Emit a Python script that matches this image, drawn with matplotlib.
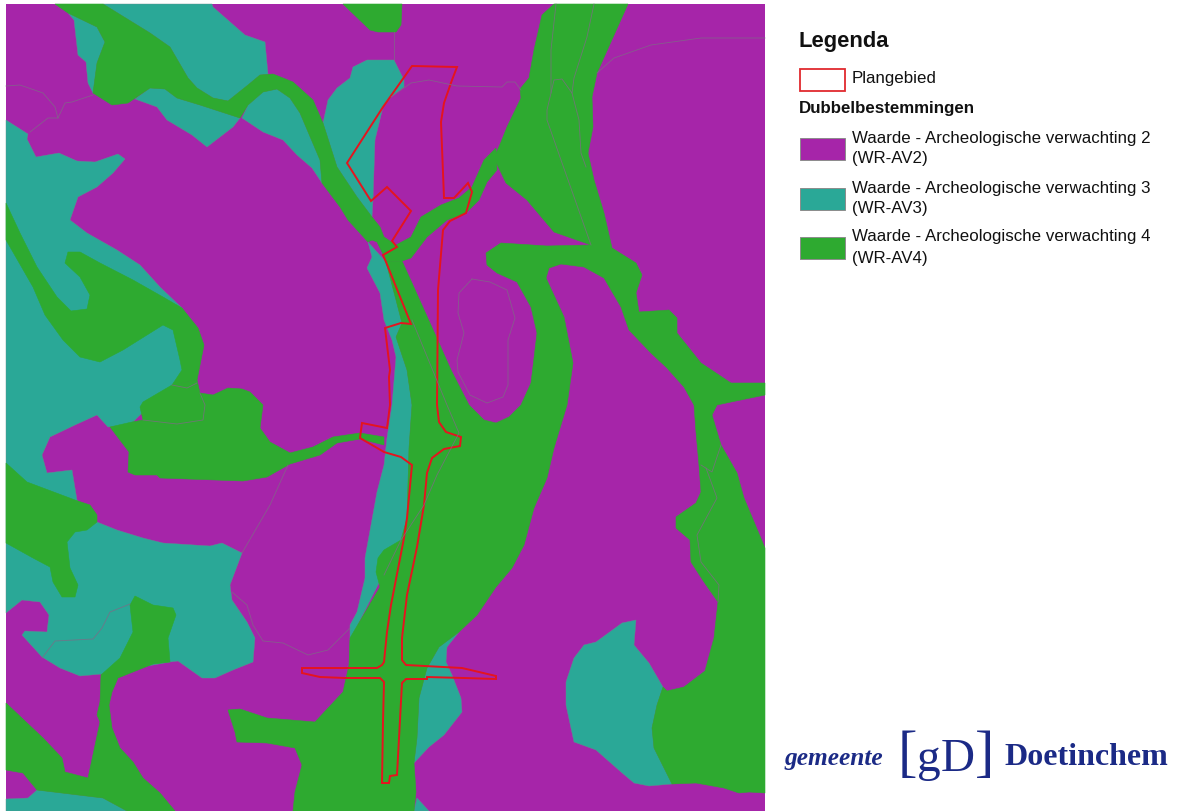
import matplotlib
matplotlib.use("Agg")
import matplotlib.pyplot as plt
from matplotlib.patches import Polygon, Rectangle

PURPLE = "#A625A9"
TEAL = "#2AA897"
GREEN = "#2EAA30"
RED = "#E5141E"
LINE = "#7F6A86"
NAVY = "#1B2A86"

# kaartvlakken, gelezen uit de afbeelding (x, y in pixels)
map_box = (6, 4, 765, 811)

teal_west = [(6,120),(28,134),(27,139),(36,157),(59,153),(77,161),(95,162),(118,154),(125,159),(113,173),(97,187),
             (78,197),(70,220),(87,233),(117,250),(140,265),(160,287),(182,308),(195,330),(195,375),(170,390),(145,410),
             (130,425),(108,427),(97,415),(75,425),(50,437),(42,455),(47,473),(72,470),(77,500),(97,522),(117,530),
             (143,538),(163,543),(210,546),(222,543),(242,553),(230,585),(232,600),(247,622),(255,638),(253,662),
             (233,670),(215,678),(202,678),(178,661),(170,662),(102,674),(80,676),(60,668),(42,657),(22,635),(25,631),
             (47,632),(49,615),(40,602),(22,600),(6,613)]
teal_nw1 = [(103,4),(150,33),(170,47),(188,78),(197,88),(213,98),(228,101),(248,85),(260,75),(268,74),(265,42),(245,35),(213,7),(212,4)]
teal_nw2 = [(68,13),(97,27),(105,42),(97,63),(93,93),(88,83),(86,62),(78,55),(74,20)]
teal_nw3 = [(135,99),(150,88),(165,89),(177,98),(200,105),(240,118),(233,127),(220,137),(207,147),(192,135),(167,120),(157,107)]
teal_nw4 = [(242,118),(248,105),(263,92),(277,89),(290,98),(300,113),(320,160),(322,183),(312,168),(297,155),(283,140),(263,132),(248,122)]
teal_north = [(367,60),(353,67),(350,78),(337,88),(328,100),(323,123),(337,167),(357,197),(372,217),(373,200),(375,140),
              (383,107),(391,97),(404,87),(404,80),(394,60)]
teal_central = [(368,242),(372,257),(367,268),(380,293),(384,320),(392,340),(396,357),(392,405),(387,438),(384,465),
                (377,492),(365,558),(365,578),(357,612),(350,625),(350,640),(384,573),(401,540),(407,518),(409,448),
                (412,405),(407,370),(396,337),(402,323),(396,300),(386,262)]
teal_south = [(459,632),(439,647),(427,668),(419,698),(417,738),(414,763),(429,747),(444,735),(462,712),(461,698),(452,675),(446,662),(447,647)]
teal_southeast = [(636,620),(622,623),(596,642),(584,645),(574,658),(566,682),(566,705),(574,742),(596,750),(621,772),
                  (634,783),(649,786),(672,784),(654,748),(652,728),(657,705),(663,687),(649,663),(634,645)]
teal_bottom_left = [(6,799),(28,798),(37,790),(103,798),(127,811),(6,811)]
teal_bottom_mid = [(414,811),(417,798),(429,811)]

green_north = [(55,4),(68,13),(97,27),(105,42),(97,63),(93,93),(112,105),(128,103),(150,88),(165,89),(177,98),(200,105),
               (240,118),(248,105),(263,92),(277,89),(290,98),(300,113),(320,160),(322,183),(340,207),(348,220),(368,242),
               (372,240),(377,242),(384,256),(396,245),(384,237),(380,227),(372,217),(357,197),(337,167),(323,123),(313,100),
               (293,82),(273,74),(260,75),(248,85),(228,101),(213,98),(197,88),(188,78),(170,47),(150,33),(103,4)]
green_top = [(343,4),(370,30),(378,32),(396,32),(401,25),(402,4)]
green_link = [(396,245),(411,237),(421,217),(441,205),(459,198),(472,187),(484,160),(496,148),(497,170),(487,182),(479,200),
              (466,213),(447,220),(427,237),(411,258),(402,261),(386,262),(384,256)]
green_body = [(402,261),(412,283),(439,343),(451,370),(469,405),(484,420),(496,423),(509,417),(521,405),(531,383),(537,333),
              (531,307),(517,282),(497,273),(487,265),(486,253),(501,243),(547,246),(591,245),(554,232),(527,200),(506,183),
              (494,158),(501,142),(507,127),(521,98),(520,89),(529,78),(534,50),(542,15),(554,4),(628,4),(597,73),(592,97),
              (593,127),(588,153),(594,180),(604,213),(612,248),(636,263),(642,275),(636,293),(639,312),(669,310),(677,318),
              (677,333),(701,363),(731,383),(765,383),(765,395),(731,402),(717,405),(712,415),(721,445),(737,473),(744,498),
              (765,548),(765,793),(749,792),(739,793),(724,788),(696,783),(672,784),(654,748),(652,728),(657,705),(663,687),
              (667,691),(684,687),(705,671),(714,638),(718,602),(704,582),(691,562),(690,540),(676,528),(676,517),(696,503),
              (701,492),(699,465),(696,432),(694,405),(684,387),(667,368),(651,353),(629,330),(621,307),(604,278),(584,267),
              (561,264),(549,268),(546,278),(564,317),(573,363),(567,405),(554,448),(547,478),(534,508),(524,545),(512,568),
              (496,587),(477,615),(459,632),(439,647),(427,668),(419,698),(417,738),(414,763),(416,792),(414,811),(293,811),
              (295,792),(302,765),(295,748),(267,743),(237,742),(235,732),(228,710),(240,709),(267,718),(315,722),(343,692),
              (349,665),(350,638),(380,587),(376,572),(378,558),(384,550),(401,540),(407,518),(409,448),(412,405),(407,370),
              (396,337),(402,323),(396,300),(386,262)]
green_west = [(6,203),(6,240),(33,287),(45,315),(63,340),(80,357),(100,362),(123,350),(163,325),(173,330),(180,360),(182,370),
              (172,385),(197,380),(204,345),(198,328),(182,308),(163,297),(133,280),(100,263),(80,252),(68,252),(65,263),
              (80,277),(90,295),(87,309),(71,311),(57,297),(37,267),(20,233)]
green_center = [(172,385),(143,402),(140,407),(143,420),(132,422),(110,427),(129,452),(128,472),(135,475),(157,475),(160,478),
                (243,481),(267,477),(290,464),(320,455),(337,443),(360,439),(384,445),(384,437),(360,433),(333,437),(313,447),
                (290,453),(270,442),(260,428),(263,405),(250,392),(242,389),(228,388),(213,395),(200,393),(197,380)]
green_sw1 = [(6,463),(27,482),(75,500),(90,505),(97,515),(97,522),(87,530),(75,532),(67,542),(70,568),(78,585),(75,597),
             (62,597),(53,582),(50,567),(33,558),(6,543)]
green_sw2 = [(130,605),(135,596),(153,605),(173,608),(176,615),(168,638),(170,662),(153,664),(118,678),(112,692),(109,705),
             (112,728),(120,748),(133,762),(143,778),(160,793),(175,811),(127,811),(103,798),(37,790),(23,773),(6,770),(6,703),
             (43,738),(62,758),(65,772),(88,778),(100,722),(97,715),(100,702),(101,675),(120,658),(133,632)]

teal_areas = [teal_west, teal_nw1, teal_nw2, teal_nw3, teal_nw4, teal_north, teal_central, teal_south,
              teal_southeast, teal_bottom_left, teal_bottom_mid]
green_areas = [green_north, green_top, green_link, green_body, green_west, green_center, green_sw1, green_sw2]

# dunne grijze perceelgrenzen
grey_lines = [
    [(6,86),(20,85),(43,93),(55,107),(58,118),(48,118),(30,132)],
    [(58,118),(65,103),(72,102),(93,95)],
    [(472,279),(459,293),(458,313),(464,333),(457,360),(458,372),(470,395),(487,403),(503,397),(508,385),(508,340),(515,318),(507,290),(490,282),(472,279)],
    [(597,73),(614,58),(651,45),(701,38),(765,38)],
    [(394,32),(394,60)],
    [(391,97),(411,83),(429,80),(457,86),(502,87),(507,82),(515,82),(521,90)],
    [(556,4),(551,50),(551,93),(547,110),(547,120),(561,160),(591,245)],
    [(594,4),(587,37),(574,78),(572,93)],
    [(551,93),(554,80),(562,79),(572,93),(579,120),(581,153),(586,167)],
    [(288,465),(270,505),(242,553)],
    [(232,592),(247,605),(253,625),(263,641),(283,643),(308,655),(328,650),(350,628)],
    [(130,604),(110,612),(102,628),(93,639),(55,641),(42,658)],
    [(412,320),(447,405),(459,433),(437,475),(424,505),(401,540),(384,575)],
    [(701,465),(712,472),(721,445)],
    [(706,468),(717,498),(697,535),(701,562),(719,585),(718,602)],
    [(143,420),(177,424),(203,420),(205,405),(200,393)],
    [(172,385),(187,388),(197,383)],
]

# plangebied
plan_outline = [(412,66),(457,67),(452,80),(444,103),(441,122),(444,198),(454,198),(468,183),(472,192),(466,213),(450,221),
                (443,230),(438,290),(437,405),(439,422),(446,432),(461,437),(460,446),(444,449),(432,458),(427,473),(424,505),
                (417,547),(407,595),(402,638),(402,660),(406,665),(462,668),(496,676),(496,679),(464,678),(427,677),(427,679),
                (406,679),(402,683),(397,775),(390,776),(389,783),(382,783),(383,722),(384,682),(380,678),(345,678),(320,677),
                (302,673),(302,668),(333,668),(377,668),(382,665),(384,662),(387,632),(391,605),(404,538),(407,518),(412,465),
                (401,457),(384,452),(360,438),(362,423),(387,428),(390,405),(389,377),(390,370),(385,328),(401,323),(411,324),
                (386,262),(383,255),(397,247),(392,241),(411,211),(387,187),(371,201),(347,163),(383,107)]

# legenda
legend_labels = ["Waarde - Archeologische verwachting 2", "Waarde - Archeologische verwachting 3", "Waarde - Archeologische verwachting 4"]
legend_codes = ["(WR-AV2)", "(WR-AV3)", "(WR-AV4)"]
legend_colors = [PURPLE, TEAL, GREEN]
legend_y = [148, 198, 247]

fig = plt.figure(figsize=(11.82, 8.11), dpi=100)
ax = fig.add_axes([0, 0, 1, 1])
ax.set_xlim(0, 1182)
ax.set_ylim(811, 0)
ax.axis("off")

x0, y0, x1, y1 = map_box
clip = Rectangle((x0, y0), x1 - x0, y1 - y0, transform=ax.transData)
ax.add_patch(Rectangle((x0, y0), x1 - x0, y1 - y0, facecolor=PURPLE, edgecolor="none"))

for area in teal_areas:
    ax.add_patch(Polygon(area, closed=True, facecolor=TEAL, edgecolor="#5f8f8f", linewidth=0.3, clip_path=clip))
for area in green_areas:
    ax.add_patch(Polygon(area, closed=True, facecolor=GREEN, edgecolor=GREEN, linewidth=0.4, clip_path=clip))
for line in grey_lines:
    ax.plot([p[0] for p in line], [p[1] for p in line], color=LINE, linewidth=0.6, alpha=0.8)

ax.add_patch(Polygon(plan_outline, closed=True, fill=False, edgecolor=RED, linewidth=1.4))

font = "Liberation Sans"
ax.text(799, 41, "Legenda", fontsize=15.8, fontweight="bold", family=font, va="center", color="#111111")
ax.add_patch(Rectangle((799.5, 68.5), 45, 22, facecolor="white", edgecolor="#E02A2E", linewidth=1.3))
ax.text(852, 78, "Plangebied", fontsize=12.2, family=font, va="center", color="#111111")
ax.text(799, 109, "Dubbelbestemmingen", fontsize=12.2, fontweight="bold", family=font, va="center", color="#111111")

for label, code, color, y in zip(legend_labels, legend_codes, legend_colors, legend_y):
    ax.add_patch(Rectangle((799.5, y - 10.5), 45, 22, facecolor=color, edgecolor="#8c8c8c", linewidth=0.7))
    ax.text(852, y - 10, label, fontsize=12.2, family=font, va="center", color="#111111")
    ax.text(852, y + 11, code, fontsize=12.2, family=font, va="center", color="#111111")

# logo
serif = "Liberation Serif"
ax.text(784, 765, "gemeente", fontsize=18.3, family=serif, style="italic", fontweight="bold", color=NAVY, va="baseline")
ax.text(898, 770, "[", fontsize=42, family=serif, color=NAVY, va="baseline")
ax.text(917, 771, "g", fontsize=34, family=serif, color=NAVY, va="baseline")
ax.text(941, 771, "D", fontsize=34, family=serif, color=NAVY, va="baseline")
ax.text(975, 770, "]", fontsize=42, family=serif, color=NAVY, va="baseline")
ax.text(1004, 765, "Doetinchem", fontsize=23, family=serif, fontweight="bold", color=NAVY, va="baseline")

fig.savefig("out.png", dpi=100)
